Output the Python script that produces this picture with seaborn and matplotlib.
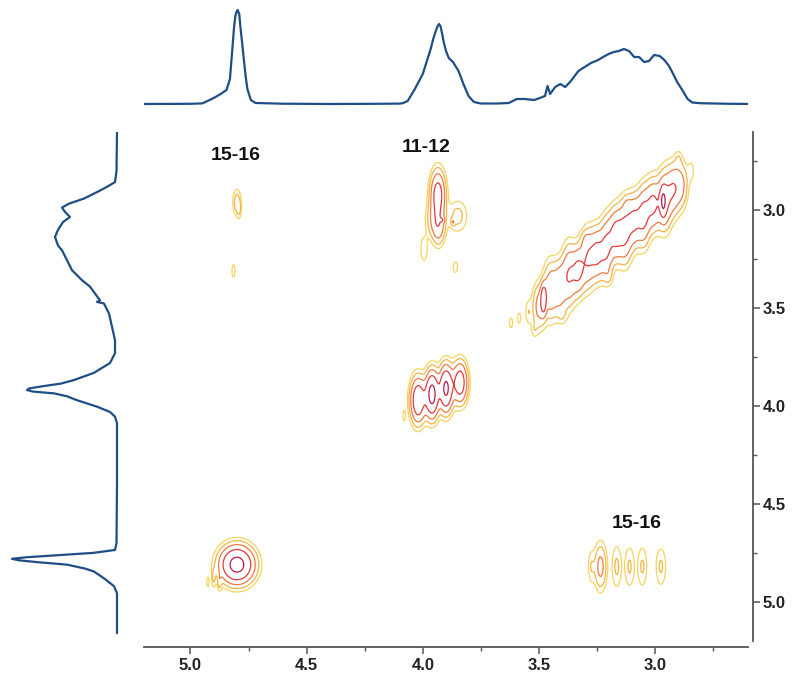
import numpy as np
import matplotlib
matplotlib.use("Agg")
import matplotlib.pyplot as plt
from matplotlib.ticker import MultipleLocator, FormatStrFormatter
import seaborn as sns

# ---- 1D projection along F2 (top trace): chemical shift (ppm) and intensity
f2_ppm = [5.20, 5.00, 4.95, 4.94, 4.90, 4.87, 4.845, 4.83, 4.82, 4.812, 4.806,
          4.80, 4.797, 4.79, 4.785, 4.777, 4.77, 4.762, 4.755, 4.74, 4.72,
          4.60, 4.40, 4.20, 4.10, 4.086, 4.065, 4.034, 4.00, 3.966, 3.955,
          3.944, 3.936, 3.93, 3.924, 3.918, 3.91, 3.90, 3.888, 3.87, 3.846,
          3.825, 3.803, 3.78, 3.75, 3.68, 3.63, 3.595, 3.562, 3.52, 3.496,
          3.474, 3.463, 3.452, 3.43, 3.408, 3.387, 3.366, 3.33, 3.31, 3.276,
          3.245, 3.224, 3.20, 3.178, 3.156, 3.134, 3.112, 3.09, 3.069, 3.047,
          3.026, 3.004, 2.98, 2.96, 2.94, 2.922, 2.905, 2.883, 2.86, 2.84,
          2.806, 2.70, 2.586]
f2_int = [0.0, 0.2, 0.6, 1.5, 6, 10, 14, 25, 54, 78, 89,
          93, 94, 90, 77, 60, 44, 27, 15, 4, 1,
          0.3, 0.0, 0.2, 0.4, 0.8, 3, 15, 30, 55, 65,
          73, 78, 80, 78, 72, 62, 53, 46, 42, 33,
          20, 8, 2, 0.5, 0.5, 1, 5, 5, 4, 6,
          8, 18, 10, 17, 20, 17, 22, 33, 36, 41,
          44, 47, 50, 52, 53, 55, 53, 47, 47, 42,
          43, 49, 48, 44, 38, 30, 22, 14, 5, 1.5,
          0.8, 0.3, 0.0]

# ---- 1D projection along F1 (left trace)
f1_ppm = [2.60, 2.80, 2.856, 2.88, 2.907, 2.94, 2.966, 2.986, 3.008, 3.034,
          3.06, 3.10, 3.136, 3.18, 3.204, 3.255, 3.306, 3.357, 3.39, 3.425,
          3.46, 3.468, 3.476, 3.527, 3.595, 3.663, 3.73, 3.78, 3.83, 3.867,
          3.885, 3.90, 3.91, 3.918, 3.926, 3.935, 3.95, 3.97, 4.003, 4.03,
          4.054, 4.087, 4.40, 4.70, 4.735, 4.75, 4.762, 4.772, 4.78, 4.788,
          4.797, 4.81, 4.83, 4.845, 4.88, 4.92, 4.956, 5.16]
f1_int = [0.0, 0.5, 2, 10, 20, 33, 48, 55, 52, 47,
          54, 59, 62, 59, 55, 50, 45, 35, 27, 22,
          17, 20, 13, 8, 5, 2, 2, 7, 23, 43,
          56, 76, 88, 90, 84, 63, 50, 40, 20, 7,
          2, 0.0, 0.0, 0.5, 2, 24, 60, 90, 105, 98,
          80, 50, 32, 23, 13, 3, 0.0, 0.0]

# ---- 2D correlation peaks: F2 shift, F1 shift, F2 width, F1 width, height
peak_f2 = [4.800, 4.900, 4.875, 4.925,
           4.800, 4.790, 4.815,
           3.935, 3.932, 3.960, 3.850, 3.995, 3.860, 3.915, 3.870,
           4.020, 3.960, 3.900, 3.840, 4.080,
           3.275, 3.235, 3.165, 3.110, 3.055, 2.975,
           3.620, 3.585, 3.545, 3.500, 3.480, 3.450, 3.410, 3.370, 3.330,
           3.290, 3.250, 3.210, 3.170, 3.130, 3.090, 3.050, 3.010, 2.965,
           2.960, 2.920, 2.885, 2.845,
           3.300, 3.400, 3.120, 3.200, 2.900, 3.520]
peak_f1 = [4.810, 4.880, 4.900, 4.900,
           2.960, 3.000, 3.310,
           2.920, 3.080, 3.050, 3.030, 3.200, 3.290, 3.050, 3.060,
           3.970, 3.940, 3.910, 3.880, 4.050,
           4.820, 4.820, 4.820, 4.820, 4.820, 4.820,
           3.575, 3.550, 3.520, 3.490, 3.455, 3.410, 3.390, 3.330, 3.310,
           3.250, 3.220, 3.190, 3.120, 3.110, 3.050, 3.030, 2.970, 2.955,
           2.950, 2.890, 2.870, 2.800,
           3.150, 3.540, 2.970, 3.340, 2.740, 3.610]
peak_w2 = [0.044, 0.006, 0.006, 0.005,
           0.012, 0.006, 0.007,
           0.020, 0.018, 0.020, 0.028, 0.012, 0.010, 0.006, 0.006,
           0.020, 0.018, 0.018, 0.020, 0.005,
           0.010, 0.017, 0.015, 0.015, 0.015, 0.016,
           0.008, 0.008, 0.010, 0.018, 0.008, 0.020, 0.018, 0.020, 0.018,
           0.020, 0.020, 0.018, 0.020, 0.020, 0.020, 0.018, 0.020, 0.008,
           0.020, 0.020, 0.018, 0.010,
           0.015, 0.015, 0.012, 0.012, 0.010, 0.010]
peak_w1 = [0.057, 0.035, 0.030, 0.025,
           0.045, 0.030, 0.035,
           0.075, 0.060, 0.060, 0.055, 0.050, 0.030, 0.012, 0.012,
           0.070, 0.070, 0.070, 0.065, 0.025,
           0.060, 0.075, 0.078, 0.075, 0.075, 0.072,
           0.030, 0.030, 0.045, 0.075, 0.050, 0.090, 0.080, 0.095, 0.075,
           0.090, 0.080, 0.090, 0.080, 0.095, 0.080, 0.090, 0.080, 0.045,
           0.090, 0.080, 0.075, 0.040,
           0.030, 0.030, 0.030, 0.030, 0.030, 0.030]
peak_amp = [20, 1.8, 2.2, 1.4,
            3.0, 1.5, 1.5,
            11, 6, 2.5, 2.6, 1.8, 1.5, 3, 2.5,
            14, 20, 18, 12, 1.6,
            1.8, 5, 2.3, 2.2, 2.2, 2.2,
            1.4, 1.4, 1.8, 5.0, 10, 6.5, 6.0, 7.5, 8.0,
            7.0, 8.5, 8.0, 9.0, 8.5, 8.0, 8.5, 8.5, 10,
            9.0, 7.0, 4.0, 1.5,
            1.5, 1.3, 1.4, 1.3, 1.3, 1.2]

contour_levels = [1, 2, 4, 8, 16]
contour_colors = ["#f6d45c", "#f3b445", "#ef7a3e", "#e2393a", "#b81d4a"]

cross_labels = ["15-16", "11-12", "15-16"]
label_f2 = [4.806, 3.987, 3.078]
label_f1 = [2.72, 2.68, 4.60]

trace_color = "#1f4e86"
axis_color = "#555555"
ppm_range = (5.2, 2.6)

sns.set_style("white")
plt.rcParams["font.family"] = ["Liberation Sans", "DejaVu Sans"]

W, H = 793, 680
fig = plt.figure(figsize=(W / 100, H / 100), dpi=100)

main_l, main_r, main_t, main_b = 144, 748, 132, 641
ax = fig.add_axes([main_l / W, 1 - main_b / H,
                   (main_r - main_l) / W, (main_b - main_t) / H])
ax_top = fig.add_axes([main_l / W, 1 - 120 / H, (main_r - main_l) / W, 120 / H])
ax_left = fig.add_axes([0, 1 - main_b / H, 140 / W, (main_b - main_t) / H])

# ---- 2D contour map built from the peak list
x = np.linspace(ppm_range[0], ppm_range[1], 800)
y = np.linspace(ppm_range[0], ppm_range[1], 700)
X, Y = np.meshgrid(x, y)
Z = np.zeros_like(X)
for cx, cy, sx, sy, a in zip(peak_f2, peak_f1, peak_w2, peak_w1, peak_amp):
    Z += a * np.exp(-0.5 * (((X - cx) / sx) ** 2 + ((Y - cy) / sy) ** 2))

ax.contour(X, Y, Z, levels=contour_levels, colors=contour_colors,
           linewidths=0.9)
ax.set_xlim(*ppm_range)
ax.set_ylim(ppm_range[0], ppm_range[1])

for txt, lx, ly in zip(cross_labels, label_f2, label_f1):
    ax.text(lx, ly, txt, ha="center", va="center", fontsize=14,
            fontweight="bold", color="#111111")

for side in ("left", "top"):
    ax.spines[side].set_visible(False)
for side in ("bottom", "right"):
    ax.spines[side].set_visible(True)
    ax.spines[side].set_color(axis_color)
    ax.spines[side].set_linewidth(1.3)
ax.spines["bottom"].set_position(("outward", 4.5))
ax.spines["right"].set_position(("outward", 3.5))
ax.yaxis.tick_right()
ax.xaxis.tick_bottom()
for axis in (ax.xaxis, ax.yaxis):
    axis.set_major_locator(MultipleLocator(0.5))
    axis.set_minor_locator(MultipleLocator(0.25))
    axis.set_major_formatter(FormatStrFormatter("%.1f"))
ax.tick_params(which="major", direction="out", length=5, width=1.1,
               color=axis_color, labelsize=12, labelcolor="#222222", pad=3)
ax.tick_params(which="minor", direction="out", length=3, width=1.0,
               color=axis_color)
ax.tick_params(axis="y", which="both", right=True, left=False, pad=2)
for lab in ax.get_xticklabels() + ax.get_yticklabels():
    lab.set_fontweight("bold")
ax.set_xlabel("")
ax.set_ylabel("")
ax.grid(False)

# ---- projections
sns.lineplot(x=f2_ppm, y=f2_int, sort=False, estimator=None, ax=ax_top,
             color=trace_color, linewidth=1.6)
ax_top.set_xlim(*ppm_range)
ax_top.set_ylim(-16, 104)

sns.lineplot(x=f1_int, y=f1_ppm, sort=False, estimator=None, orient="y",
             ax=ax_left, color=trace_color, linewidth=1.6)
ax_left.set_ylim(ppm_range[0], ppm_range[1])
ax_left.set_xlim(117, -23)

for a in (ax_top, ax_left):
    a.set_axis_off()

fig.savefig("out.png", dpi=100)
